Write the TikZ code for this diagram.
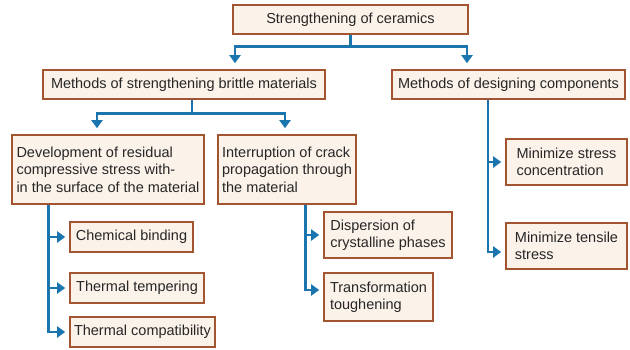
\documentclass[tikz,border=0pt]{standalone}
\usepackage{fontspec}
\setmainfont{Liberation Sans}
\usepackage{tikz}
\usetikzlibrary{arrows}
\usetikzlibrary{arrows.meta}
\usetikzlibrary{calc}
\definecolor{boxline}{RGB}{163,84,48}
\definecolor{boxfill}{RGB}{251,242,234}
\definecolor{linkblue}{RGB}{26,117,174}
\begin{document}
\begin{tikzpicture}[>={Triangle[width=11pt,length=8pt]},x=1pt,y=-1pt,font=\fontsize{14.5}{17.5}\selectfont,
		box/.style={draw=boxline,fill=boxfill,line width=1.6,inner sep=0,align=left,text=black!85},
		link/.style={draw=linkblue,line width=2.8,->,shorten >=4}]
			\useasboundingbox(0,0)rectangle(630,349);
			\node[box,minimum width=235,minimum height=29](T)at(350.5,19.5){Strengthening of ceramics};
			\node[box,minimum width=282,minimum height=29](B1)at(184,84.5){Methods of strengthening brittle materials};
			\node[box,minimum width=233,minimum height=29](B2)at(508.5,84.5){Methods of designing components};
			\node[box,minimum width=192,minimum height=69](C1)at(108,169.5){Development of residual\\compressive stress with-\\in the surface of the material};
			\node[box,minimum width=138,minimum height=69](C2)at(287,169.5){Interruption of crack\\propagation through\\the material};
			\node[box,minimum width=123,minimum height=30](D1)at(131.5,237){Chemical binding};
			\node[box,minimum width=134,minimum height=30](D2)at(137,288){Thermal tempering};
			\node[box,minimum width=145,minimum height=30](D3)at(142.5,332){Thermal compatibility};
			\node[box,minimum width=128,minimum height=46](E1)at(388,235){Dispersion of\\crystalline phases};
			\node[box,minimum width=109,minimum height=48](E2)at(378.5,297){Transformation\\toughening};
			\node[box,minimum width=121,minimum height=46](F1)at(566.5,162){Minimize stress\\concentration};
			\node[box,minimum width=121,minimum height=46](F2)at(566.5,246){Minimize tensile\\stress};
			\draw[link,shorten >=6](T.south)--++(0,12)-|([xshift=51]B1.north);
			\draw[link,shorten >=6](T.south)--++(0,12)-|([xshift=-41.5]B2.north);
			\draw[link,shorten >=6]([xshift=8]B1.south)--++(0,14)-|([xshift=-11]C1.north);
			\draw[link,shorten >=6]([xshift=8]B1.south)--++(0,14)-|([xshift=-2]C2.north);
			\draw[link]([xshift=37]C1.south west)|-(D1.west);
			\draw[link]([xshift=37]C1.south west)|-(D2.west);
			\draw[link]([xshift=37]C1.south west)|-(D3.west);
			\draw[link]([xshift=88]C2.south west)|-(E1.west);
			\draw[link]([xshift=88]C2.south west)|-([yshift=7]E2.west);
			\draw[link]([xshift=-20.5]B2.south)|-(F1.west);
			\draw[link]([xshift=-20.5]B2.south)|-([yshift=-6]F2.west);
		\end{tikzpicture}
\end{document}
